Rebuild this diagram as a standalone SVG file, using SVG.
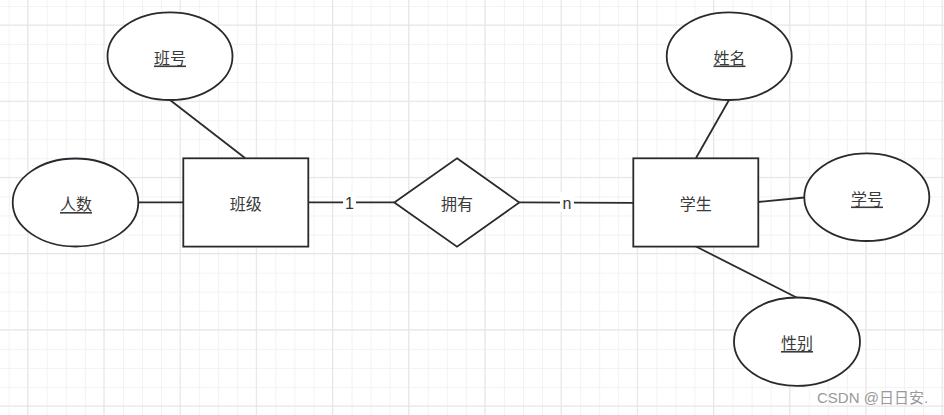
<svg xmlns="http://www.w3.org/2000/svg" width="944" height="415" viewBox="0 0 944 415">
<defs>
<pattern id="minor" patternUnits="userSpaceOnUse" x="8.65" y="5.95" width="19.05" height="19.05">
<path d="M0.5 0V19.05M0 0.5H19.05" fill="none" stroke="#f2f2f2" stroke-width="1"/>
</pattern>
<pattern id="major" patternUnits="userSpaceOnUse" x="27.2" y="24.5" width="76.2" height="76.2">
<path d="M0.5 0V76.2M0 0.5H76.2" fill="none" stroke="#e5e5e5" stroke-width="1"/>
</pattern>
</defs>
<style>
.shape{fill:#ffffff;stroke:#262b30;stroke-width:1.8}
.conn line{stroke:#2b2b2b;stroke-width:1.8}
.t{font-family:"Noto Sans CJK SC","Noto Sans",sans-serif;font-size:16px;fill:#3a3a3a;text-anchor:middle;dominant-baseline:central}
.u{text-decoration:underline}
.lbl{font-family:"Liberation Sans",Arial,sans-serif;font-size:16px;fill:#333333;text-anchor:middle;dominant-baseline:central}
</style>
<rect width="944" height="415" fill="#ffffff"/>
<rect width="944" height="415" fill="url(#minor)"/>
<rect width="944" height="415" fill="url(#major)"/>
<g id="connectors" class="conn">
<line x1="138" y1="202.3" x2="183" y2="202.3"/>
<line x1="170" y1="100" x2="245" y2="158"/>
<line x1="308" y1="202.3" x2="394" y2="202.3"/>
<line x1="519.5" y1="202.3" x2="633" y2="202.8"/>
<line x1="758" y1="202" x2="804.5" y2="197.5"/>
<line x1="729" y1="100" x2="696" y2="158"/>
<line x1="696" y1="246.5" x2="797" y2="297.8"/>
<rect x="343" y="192" width="13" height="20" fill="#ffffff"/>
<text class="lbl" x="349.5" y="203.5">1</text>
<rect x="560" y="192" width="14" height="20" fill="#ffffff"/>
<text class="lbl" x="567" y="203.5">n</text>
</g>
<g id="banhao">
<ellipse class="shape" cx="170" cy="56.2" rx="62.5" ry="43.8"/>
<text class="t u" x="170" y="56.5">班号</text>
</g>
<g id="renshu">
<ellipse class="shape" cx="75.5" cy="202.5" rx="62.8" ry="44"/>
<text class="t u" x="76" y="203">人数</text>
</g>
<g id="banji">
<rect class="shape" x="183.3" y="158.3" width="125" height="88.3"/>
<text class="t" x="245.8" y="202.5">班级</text>
</g>
<g id="yongyou">
<polygon class="shape" points="457,158.3 519.3,202.5 457,246.7 394.3,202.5"/>
<text class="t" x="457" y="203">拥有</text>
</g>
<g id="xuesheng">
<rect class="shape" x="633.3" y="158.3" width="125" height="88.3"/>
<text class="t" x="695.8" y="203">学生</text>
</g>
<g id="xingming">
<ellipse class="shape" cx="729.2" cy="56.2" rx="62.5" ry="43.8"/>
<text class="t u" x="729.5" y="56.5">姓名</text>
</g>
<g id="xuehao">
<ellipse class="shape" cx="866.8" cy="197.2" rx="62.5" ry="43.8"/>
<text class="t u" x="867" y="197.5">学号</text>
</g>
<g id="xingbie">
<ellipse class="shape" cx="797" cy="341.7" rx="63" ry="44.2"/>
<text class="t u" x="797" y="342">性别</text>
</g>
<text x="817" y="403" font-family="'Liberation Sans','Noto Sans CJK SC',sans-serif" font-size="15" fill="#999999">CSDN @日日安.</text>
</svg>
